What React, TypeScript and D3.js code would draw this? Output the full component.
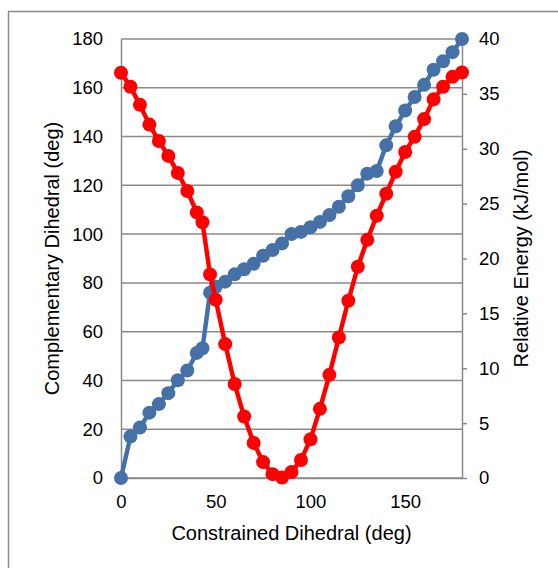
import React, { useEffect, useRef } from "react";
import * as d3 from "d3";

// constrained dihedral (deg)
const constrained = [
  0, 5, 10, 15, 20, 25, 30, 35, 40, 43, 47, 50, 55, 60, 65, 70, 75, 80, 85, 90,
  95, 100, 105, 110, 115, 120, 125, 130, 135, 140, 145, 150, 155, 160, 165, 170,
  175, 180,
];
// complementary dihedral (deg), left axis
const complementary = [
  0, 17, 20.7, 26.8, 30.3, 34.8, 40.1, 44.1, 51.3, 53.2, 76, 78.4, 80.5, 83.5,
  85.6, 87.8, 91.1, 93.5, 96.2, 100, 100.9, 102.8, 105, 107.8, 111.2, 115.5, 120,
  124.8, 125.9, 136.4, 144.2, 150.7, 156.2, 161.2, 167.4, 170.9, 174.6, 180,
];
// relative energy (kJ/mol), right axis
const energy = [
  36.93, 35.65, 34, 32.2, 30.7, 29.35, 27.8, 26.15, 24.2, 23.3, 18.55, 16.25,
  12.2, 8.56, 5.6, 3.2, 1.45, 0.35, 0.05, 0.55, 1.64, 3.52, 6.3, 9.4, 12.8,
  16.15, 19.25, 21.7, 23.9, 25.9, 27.9, 29.7, 31.1, 32.7, 34.5, 35.65, 36.55,
  36.95,
];

const leftTicks = [0, 20, 40, 60, 80, 100, 120, 140, 160, 180];
const rightTicks = [0, 5, 10, 15, 20, 25, 30, 35, 40];
const xTicks = [0, 50, 100, 150];

const App = () => {
  const chart = useRef<SVGSVGElement>(null);

  useEffect(() => {
    document.body.style.margin = "0";
    const width = 558;
    const height = 568;
    const left = 121;
    const right = 462;
    const top = 39;
    const bottom = 478;
    const grid = "#8a8a8a";
    const font = "'Liberation Sans', Arial, sans-serif";

    const svg = d3
      .select(chart.current)
      .attr("width", width)
      .attr("height", height)
      .style("display", "block")
      .style("background", "#fff");
    svg.selectAll("*").remove();

    // outer chart border
    svg
      .append("rect")
      .attr("x", 8.5)
      .attr("y", 11.5)
      .attr("width", 700)
      .attr("height", 700)
      .attr("fill", "none")
      .attr("stroke", grid)
      .attr("stroke-width", 1.5);

    const xScale = d3.scaleLinear().domain([0, 180]).range([left, right]);
    const yLeft = d3.scaleLinear().domain([0, 180]).range([bottom, top]);
    const yRight = d3.scaleLinear().domain([0, 40]).range([bottom, top]);

    // gridlines
    svg
      .append("g")
      .selectAll("line")
      .data(leftTicks)
      .join("line")
      .attr("x1", left)
      .attr("x2", right)
      .attr("y1", (d) => yLeft(d))
      .attr("y2", (d) => yLeft(d))
      .attr("stroke", grid)
      .attr("stroke-width", 1.5);

    // axes
    const leftAxis = svg
      .append("g")
      .attr("transform", `translate(${left},0)`)
      .call(d3.axisLeft(yLeft).tickValues(leftTicks).tickSize(0).tickPadding(18));
    const bottomAxis = svg
      .append("g")
      .attr("transform", `translate(0,${bottom})`)
      .call(d3.axisBottom(xScale).tickValues(xTicks).tickSize(0).tickPadding(17));
    const rightAxis = svg
      .append("g")
      .attr("transform", `translate(${right},0)`)
      .call(
        d3
          .axisRight(yRight)
          .tickValues(rightTicks)
          .tickSize(5)
          .tickSizeOuter(0)
          .tickPadding(12)
      );

    [leftAxis, bottomAxis, rightAxis].forEach((g) => {
      g.attr("font-family", font).attr("font-size", 18.5);
      g.select(".domain").attr("stroke", grid).attr("stroke-width", 1.5);
      g.selectAll(".tick line").attr("stroke", grid).attr("stroke-width", 1.5);
      g.selectAll(".tick text").attr("fill", "#000");
    });

    // series
    const blueLine = d3
      .line<number>()
      .x((d, i) => xScale(constrained[i]))
      .y((d) => yLeft(d));
    const redLine = d3
      .line<number>()
      .x((d, i) => xScale(constrained[i]))
      .y((d) => yRight(d));

    const blue = "#4571a7";
    const red = "#ff0000";

    svg
      .append("path")
      .datum(complementary)
      .attr("d", blueLine)
      .attr("fill", "none")
      .attr("stroke", blue)
      .attr("stroke-width", 4.5)
      .attr("stroke-linejoin", "round");
    svg
      .append("g")
      .selectAll("circle")
      .data(complementary)
      .join("circle")
      .attr("cx", (d, i) => xScale(constrained[i]))
      .attr("cy", (d) => yLeft(d))
      .attr("r", 7)
      .attr("fill", blue);

    svg
      .append("path")
      .datum(energy)
      .attr("d", redLine)
      .attr("fill", "none")
      .attr("stroke", red)
      .attr("stroke-width", 4.5)
      .attr("stroke-linejoin", "round");
    svg
      .append("g")
      .selectAll("circle")
      .data(energy)
      .join("circle")
      .attr("cx", (d, i) => xScale(constrained[i]))
      .attr("cy", (d) => yRight(d))
      .attr("r", 7)
      .attr("fill", red);

    // titles
    const titles = svg
      .append("g")
      .attr("font-family", font)
      .attr("font-size", 20)
      .attr("fill", "#000")
      .attr("text-anchor", "middle");
    titles
      .append("text")
      .attr("x", (left + right) / 2)
      .attr("y", 540)
      .text("Constrained Dihedral (deg)");
    titles
      .append("text")
      .attr("transform", `translate(59,${(top + bottom) / 2}) rotate(-90)`)
      .text("Complementary Dihedral (deg)");
    titles
      .append("text")
      .attr("transform", `translate(528,${(top + bottom) / 2}) rotate(-90)`)
      .text("Relative Energy (kJ/mol)");
  }, []);

  return (
    <div>
      <svg ref={chart}></svg>
    </div>
  );
};

export default App;
